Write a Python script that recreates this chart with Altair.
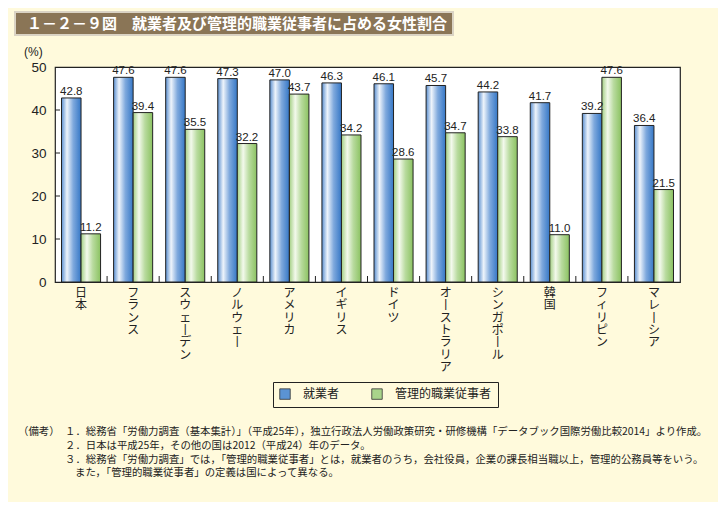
import altair as alt
import pandas as pd

countries = ["日本", "フランス", "スウェーデン", "ノルウェー", "アメリカ", "イギリス",
             "ドイツ", "オーストラリア", "シンガポール", "韓国", "フィリピン", "マレーシア"]
employed = [42.8, 47.6, 47.6, 47.3, 47.0, 46.3, 46.1, 45.7, 44.2, 41.7, 39.2, 36.4]
managers = [11.2, 39.4, 35.5, 32.2, 43.7, 34.2, 28.6, 34.7, 33.8, 11.0, 47.6, 21.5]
series = ["就業者", "管理的職業従事者"]
y_ticks = [0, 10, 20, 30, 40, 50]

title_text = "１－２－９図　就業者及び管理的職業従事者に占める女性割合"
notes = [
    "（備考）",
    "１．総務省「労働力調査（基本集計）」（平成25年），独立行政法人労働政策研究・研修機構「データブック国際労働比較2014」より作成。",
    "２．日本は平成25年，その他の国は2012（平成24）年のデータ。",
    "３．総務省「労働力調査」では，「管理的職業従事者」とは，就業者のうち，会社役員，企業の課長相当職以上，管理的公務員等をいう。",
    "また，「管理的職業従事者」の定義は国によって異なる。",
]

rows = []
for c, e, m in zip(countries, employed, managers):
    rows.append({"country": c, "series": series[0], "value": e})
    rows.append({"country": c, "series": series[1], "value": m})
df = pd.DataFrame(rows)

# vertical writing: long-vowel mark shown as a vertical stroke
lab = pd.DataFrame({"country": countries,
                    "chars": [list(c.replace("ー", "丨")) for c in countries]})
bounds = pd.DataFrame({"country": countries[1:]})
ticks = pd.DataFrame({"v": y_ticks[1:-1]})

FONT_JP = "Noto Sans CJK JP"
FONT_NUM = "Liberation Sans"
BG = "#FFFADC"

xs = alt.Scale(domain=countries, paddingInner=0, paddingOuter=0)
ys = alt.Scale(domain=[0, 50], nice=False)
xo = alt.Scale(domain=series, paddingInner=0, paddingOuter=0.333)

blue_grad = alt.Gradient(gradient="linear", x1=0, x2=1, y1=0, y2=0, stops=[
    alt.GradientStop(color="#5A8FD0", offset=0),
    alt.GradientStop(color="#EEF4FB", offset=0.28),
    alt.GradientStop(color="#7FA9DD", offset=0.6),
    alt.GradientStop(color="#3577C6", offset=1),
])
green_grad = alt.Gradient(gradient="linear", x1=0, x2=1, y1=0, y2=0, stops=[
    alt.GradientStop(color="#A3CF83", offset=0),
    alt.GradientStop(color="#F3F9EC", offset=0.3),
    alt.GradientStop(color="#B9DB9F", offset=0.6),
    alt.GradientStop(color="#8BC261", offset=1),
])

base = alt.Chart(df)
X = alt.X("country:N", scale=xs, axis=None, sort=countries)
Y = alt.Y("value:Q", scale=ys, axis=alt.Axis(title=None, values=y_ticks, ticks=False,
                                              domain=False, grid=False, labelPadding=9,
                                              labelFontSize=13.5, labelFont=FONT_NUM,
                                              labelColor="#222"))
XO = alt.XOffset("series:N", scale=xo, sort=series)

bars_b = base.transform_filter(alt.datum.series == series[0]).mark_bar(
    color=blue_grad, stroke="#222", strokeWidth=1).encode(x=X, y=Y, xOffset=XO)
bars_g = base.transform_filter(alt.datum.series == series[1]).mark_bar(
    color=green_grad, stroke="#222", strokeWidth=1).encode(x=X, y=Y, xOffset=XO)

vals = base.mark_text(baseline="bottom", dy=-1, font=FONT_NUM, fontSize=11.5,
                      color="#222").encode(x=X, y=Y, xOffset=XO,
                                           text=alt.Text("value:Q", format=".1f"))

legend_layer = base.mark_square(opacity=0).encode(
    x=X, y=Y, xOffset=XO,
    color=alt.Color("series:N", sort=series, scale=alt.Scale(domain=series, range=["#5B93D3", "#A9D48B"]),
                    legend=alt.Legend(title=None, orient="none", legendX=218, legendY=315,
                                      direction="horizontal", strokeColor="#222",
                                      padding=6, symbolType="square", symbolSize=110,
                                      symbolOpacity=1, symbolStrokeColor="#333",
                                      symbolStrokeWidth=0.8, labelFontSize=12,
                                      labelFont=FONT_JP, labelColor="#222",
                                      columnPadding=30, labelOffset=12)))

ytick_rules = alt.Chart(ticks).mark_rule(color="#222", strokeWidth=1).encode(
    y=alt.Y("v:Q", scale=ys), x=alt.value(0), x2=alt.value(5))
xbound_rules = alt.Chart(bounds).mark_rule(color="#222", strokeWidth=1).encode(
    x=alt.X("country:N", scale=xs, bandPosition=0, sort=countries),
    y=alt.value(209), y2=alt.value(215))

cat_labels = alt.Chart(lab).mark_text(baseline="top", font=FONT_JP, fontSize=12,
                                      lineHeight=12.3, color="#222").encode(
    x=alt.X("country:N", scale=xs, sort=countries), y=alt.value(221), text="chars")

one = alt.Data(values=[{"a": 1}])
band = alt.Chart(one).mark_rect(color="#8A7556", stroke="#DAD3C4", strokeWidth=2).encode(
    x=alt.value(-40), x2=alt.value(398), y=alt.value(-55), y2=alt.value(-32))
title = alt.Chart(one).mark_text(align="left", baseline="middle", font=FONT_JP,
                                 fontSize=15, fontWeight="bold", color="white").encode(
    x=alt.value(-28), y=alt.value(-43), text=alt.value(title_text))
pct = alt.Chart(one).mark_text(align="left", baseline="middle", font=FONT_NUM,
                               fontSize=12, color="#222").encode(
    x=alt.value(-31), y=alt.value(-15), text=alt.value("(%)"))

note_pos = [(-37, 365), (10, 365), (10, 379), (10, 393), (20, 406)]
note_layers = [
    alt.Chart(one).mark_text(align="left", baseline="middle", font=FONT_JP,
                             fontSize=10.4, color="#222").encode(
        x=alt.value(px), y=alt.value(py), text=alt.value(t))
    for t, (px, py) in zip(notes, note_pos)
]

chart = alt.layer(bars_b, bars_g, vals, legend_layer, ytick_rules, xbound_rules,
                  cat_labels, band, title, pct, *note_layers).properties(
    width=625, height=215,
    autosize=alt.AutoSizeParams(type="none"),
    padding={"left": 47, "top": 59, "right": 38, "bottom": 220},
    background=BG,
).configure_view(stroke="#222", strokeWidth=1.2, fill="white")

chart.save("out.html", embed_options={"renderer": "svg", "actions": False})
